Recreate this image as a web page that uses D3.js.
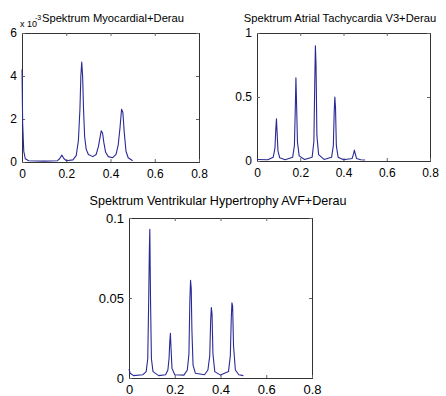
<!DOCTYPE html>
<html lang="en">
<head>
  <meta charset="utf-8">
  <title>Spektrum</title>
  <script src="https://cdn.jsdelivr.net/npm/d3@7"></script>
  <style>
    body { margin: 0; background: #fff; }
    text { font-family: "Liberation Sans", Arial, sans-serif; fill: #000; }
  </style>
</head>
<body>
  <script>
  // titles of the three panels
  var titles = [
    "Spektrum Myocardial+Derau",
    "Spektrum Atrial Tachycardia V3+Derau",
    "Spektrum Ventrikular Hypertrophy AVF+Derau"
  ];

  // x ticks are the same everywhere
  var xTicks = [0, 0.2, 0.4, 0.6, 0.8];
  var yTicks1 = [0, 2, 4, 6];        // x 10^-3
  var yTicks2 = [0, 0.5, 1];
  var yTicks3 = [0, 0.05, 0.1];

  // panel 1 : Myocardial (values in units of 10^-3)
  var freq1 = [0, 0.003, 0.008, 0.015, 0.03, 0.1, 0.16, 0.17, 0.18, 0.19, 0.2, 0.23, 0.245, 0.255,
    0.262, 0.266, 0.27, 0.274, 0.278, 0.283, 0.29, 0.3, 0.32, 0.335, 0.345, 0.352, 0.358, 0.364,
    0.37, 0.378, 0.39, 0.41, 0.425, 0.435, 0.443, 0.45, 0.456, 0.462, 0.47, 0.48, 0.5];
  var amp1 = [4.3, 1.8, 0.5, 0.15, 0.06, 0.04, 0.06, 0.15, 0.32, 0.15, 0.06, 0.1, 0.3, 1.0,
    2.5, 4.0, 4.65, 4.0, 2.5, 1.2, 0.6, 0.35, 0.25, 0.35, 0.7, 1.1, 1.45, 1.35,
    0.9, 0.45, 0.25, 0.2, 0.35, 0.8, 1.6, 2.45, 2.3, 1.4, 0.5, 0.2, 0.06];

  // panel 2 : Atrial Tachycardia V3
  var freq2 = [0, 0.05, 0.075, 0.083, 0.087, 0.09, 0.093, 0.097, 0.105, 0.13, 0.165, 0.173, 0.177,
    0.18, 0.183, 0.187, 0.195, 0.22, 0.255, 0.263, 0.267, 0.27, 0.273, 0.277, 0.285, 0.31, 0.345,
    0.353, 0.357, 0.36, 0.363, 0.367, 0.375, 0.4, 0.44, 0.447, 0.45, 0.454, 0.46, 0.48, 0.5];
  var amp2 = [0.012, 0.01, 0.03, 0.1, 0.25, 0.33, 0.22, 0.08, 0.025, 0.01, 0.03, 0.12, 0.4,
    0.65, 0.45, 0.15, 0.04, 0.012, 0.03, 0.15, 0.6, 0.9, 0.75, 0.2, 0.05, 0.012, 0.03,
    0.12, 0.38, 0.5, 0.42, 0.12, 0.03, 0.01, 0.02, 0.06, 0.085, 0.06, 0.02, 0.01, 0.008];

  // panel 3 : Ventrikular Hypertrophy AVF
  var freq3 = [0, 0.005, 0.02, 0.06, 0.075, 0.082, 0.086, 0.089, 0.091, 0.094, 0.098, 0.105, 0.13,
    0.16, 0.17, 0.175, 0.178, 0.181, 0.184, 0.188, 0.2, 0.24, 0.255, 0.262, 0.266, 0.269, 0.272,
    0.275, 0.28, 0.29, 0.33, 0.345, 0.353, 0.357, 0.36, 0.363, 0.367, 0.375, 0.4, 0.435, 0.443,
    0.447, 0.45, 0.453, 0.457, 0.465, 0.48, 0.5];
  var amp3 = [0.0055, 0.003, 0.0015, 0.002, 0.004, 0.012, 0.048, 0.08, 0.093, 0.05, 0.012, 0.004, 0.0015,
    0.002, 0.005, 0.012, 0.022, 0.028, 0.018, 0.006, 0.002, 0.0018, 0.005, 0.015, 0.048, 0.061, 0.056,
    0.03, 0.008, 0.003, 0.002, 0.005, 0.014, 0.036, 0.044, 0.04, 0.015, 0.004, 0.0018, 0.004, 0.014,
    0.037, 0.047, 0.045, 0.02, 0.005, 0.002, 0.0015];

  var width = 446, height = 396;

  var svg = d3.select("body").append("svg")
    .attr("width", width)
    .attr("height", height);

  // box of each axes in pixels
  var panels = [
    {x0: 22,  x1: 199, y0: 33,  y1: 162, title: titles[0], yTicks: yTicks1, yMax: 6,   f: freq1, a: amp1, tx: 113, ty: 22,  fs: 11.2},
    {x0: 257, x1: 430, y0: 33,  y1: 161, title: titles[1], yTicks: yTicks2, yMax: 1,   f: freq2, a: amp2, tx: 340, ty: 22,  fs: 11.2},
    {x0: 129, x1: 312, y0: 218, y1: 378, title: titles[2], yTicks: yTicks3, yMax: 0.1, f: freq3, a: amp3, tx: 218, ty: 205, fs: 12.6}
  ];

  panels.forEach(function(p) {
    var x = d3.scaleLinear().domain([0, 0.8]).range([p.x0, p.x1]);
    var y = d3.scaleLinear().domain([0, p.yMax]).range([p.y1, p.y0]);
    var g = svg.append("g");
    var fmt = function(d) { return String(d); };
    var tickFs = p === panels[2] ? 13 : 12;

    // mirrored ticks top / right, no labels
    g.append("g").attr("transform", "translate(0," + p.y0 + ")")
      .call(d3.axisTop(x).tickValues(xTicks).tickSize(-3).tickFormat(""))
      .call(styleAxis);
    g.append("g").attr("transform", "translate(" + p.x1 + ",0)")
      .call(d3.axisRight(y).tickValues(p.yTicks).tickSize(-3).tickFormat(""))
      .call(styleAxis);

    // left / bottom with labels
    g.append("g").attr("transform", "translate(0," + p.y1 + ")")
      .call(d3.axisBottom(x).tickValues(xTicks).tickSize(-3).tickPadding(7).tickFormat(fmt))
      .call(styleAxis)
      .selectAll("text").attr("font-size", tickFs);
    g.append("g").attr("transform", "translate(" + p.x0 + ",0)")
      .call(d3.axisLeft(y).tickValues(p.yTicks).tickSize(-3).tickPadding(5).tickFormat(fmt))
      .call(styleAxis)
      .selectAll("text").attr("font-size", tickFs);

    var line = d3.line()
      .x(function(d, i) { return x(p.f[i]); })
      .y(function(d) { return y(d); });

    g.append("path")
      .datum(p.a)
      .attr("fill", "none")
      .attr("stroke", "#2a2a96")
      .attr("stroke-width", 1.1)
      .attr("stroke-linejoin", "round")
      .attr("d", line);

    g.append("text")
      .attr("x", p.tx)
      .attr("y", p.ty)
      .attr("text-anchor", "middle")
      .attr("font-size", p.fs)
      .text(p.title);
  });

  // exponent of the first panel
  svg.append("text").attr("x", 20).attr("y", 27).attr("font-size", 9).text("x 10");
  svg.append("text").attr("x", 35).attr("y", 20).attr("font-size", 7).text("-3");

  function styleAxis(sel) {
    sel.select(".domain").attr("stroke", "#333").attr("stroke-width", 1);
    sel.selectAll(".tick line").attr("stroke", "#666");
    sel.selectAll("text").attr("font-family", "Liberation Sans, Arial, sans-serif").attr("fill", "#000");
  }
  </script>
</body>
</html>
